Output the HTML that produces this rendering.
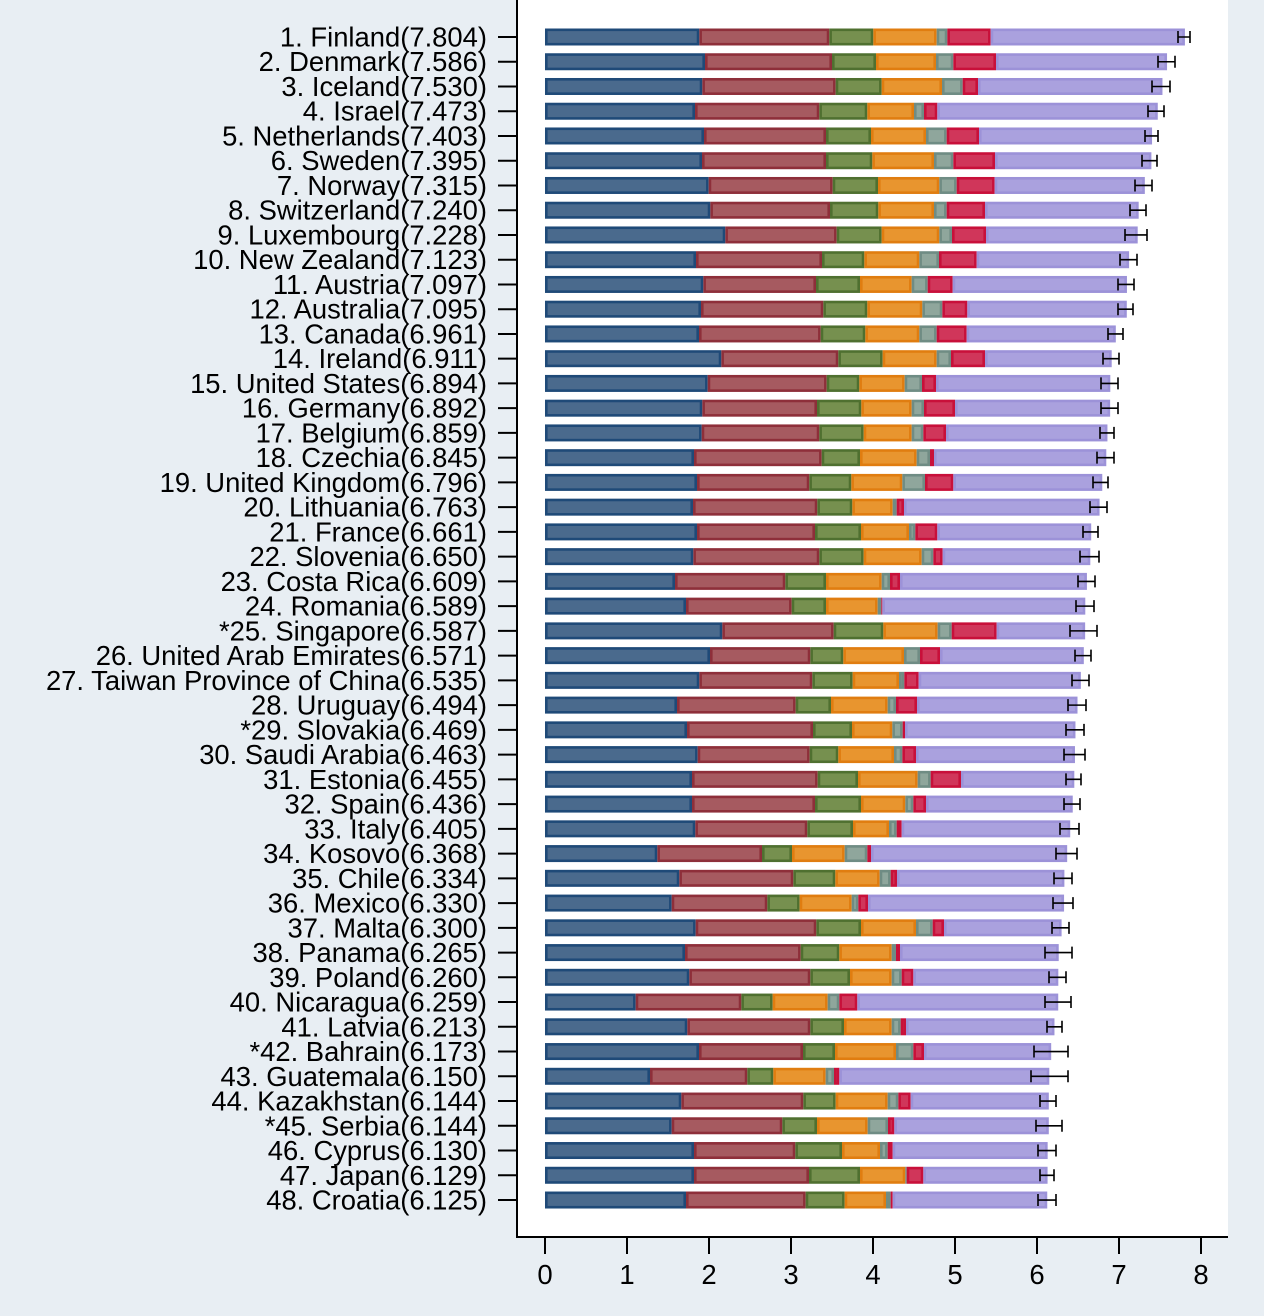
<!DOCTYPE html>
<html><head><meta charset="utf-8">
<style>
html,body{margin:0;padding:0;background:#e8eef3;}
svg{display:block;}
text{font-family:"Liberation Sans",sans-serif;}
</style></head>
<body>
<svg id="c" width="1264" height="1316" viewBox="0 0 1264 1316" xmlns="http://www.w3.org/2000/svg">
<rect x="0" y="0" width="1264" height="1316" fill="#e8eef3"/>
<rect x="517" y="0" width="711" height="1237" fill="#ffffff"/>
<g id="g"></g>
<line x1="517" y1="0" x2="517" y2="1238" stroke="#000" stroke-width="2"/>
<line x1="516" y1="1237" x2="1228" y2="1237" stroke="#000" stroke-width="2"/>
</svg>
<script>
var names=["1. Finland(7.804)","2. Denmark(7.586)","3. Iceland(7.530)","4. Israel(7.473)","5. Netherlands(7.403)","6. Sweden(7.395)","7. Norway(7.315)","8. Switzerland(7.240)","9. Luxembourg(7.228)","10. New Zealand(7.123)","11. Austria(7.097)","12. Australia(7.095)","13. Canada(6.961)","14. Ireland(6.911)","15. United States(6.894)","16. Germany(6.892)","17. Belgium(6.859)","18. Czechia(6.845)","19. United Kingdom(6.796)","20. Lithuania(6.763)","21. France(6.661)","22. Slovenia(6.650)","23. Costa Rica(6.609)","24. Romania(6.589)","*25. Singapore(6.587)","26. United Arab Emirates(6.571)","27. Taiwan Province of China(6.535)","28. Uruguay(6.494)","*29. Slovakia(6.469)","30. Saudi Arabia(6.463)","31. Estonia(6.455)","32. Spain(6.436)","33. Italy(6.405)","34. Kosovo(6.368)","35. Chile(6.334)","36. Mexico(6.330)","37. Malta(6.300)","38. Panama(6.265)","39. Poland(6.260)","40. Nicaragua(6.259)","41. Latvia(6.213)","*42. Bahrain(6.173)","43. Guatemala(6.150)","44. Kazakhstan(6.144)","*45. Serbia(6.144)","46. Cyprus(6.130)","47. Japan(6.129)","48. Croatia(6.125)"];
var B=[
[478,868,1000,1190,1222,1352],[495,876,1008,1188,1240,1368],[487,887,1025,1206,1268,1314],[465,838,982,1122,1152,1192],
[492,858,993,1158,1220,1317],[486,858,997,1182,1240,1365],[506,878,1014,1198,1250,1364],[511,870,1015,1182,1220,1335],
[556,890,1025,1198,1236,1338],[468,846,973,1138,1197,1310],[490,828,960,1115,1163,1238],[483,850,982,1147,1207,1282],
[477,842,976,1138,1190,1280],[544,895,1028,1190,1233,1335],[503,860,958,1094,1146,1188],[487,831,964,1115,1152,1245],
[485,838,971,1115,1150,1218],[462,845,960,1130,1170,1182],[471,808,934,1087,1155,1240],[459,832,937,1058,1070,1092],
[471,825,963,1107,1126,1192],[460,838,971,1145,1180,1208],[405,736,858,1025,1050,1080],[438,755,858,1013,1024,1027],
[547,881,1030,1193,1235,1370],[510,811,910,1092,1140,1200],[478,817,938,1077,1093,1136],[411,767,873,1043,1068,1131],
[441,819,936,1057,1088,1095],[473,809,895,1062,1087,1128],[456,833,954,1133,1172,1263],[456,825,963,1096,1120,1158],
[466,802,939,1047,1070,1085],[352,666,756,914,982,993],[418,760,886,1019,1052,1071],[395,682,779,935,955,984],
[467,829,963,1128,1178,1212],[435,782,898,1055,1068,1080],[448,811,930,1055,1085,1120],[287,604,698,863,898,952],
[442,811,912,1055,1082,1098],[477,789,885,1068,1120,1152],[330,622,700,857,882,898],[424,790,887,1043,1075,1112],
[395,727,831,983,1044,1063],[462,766,906,1020,1043,1058],[462,807,960,1096,1100,1150],[438,797,914,1038,1052,1058]];
var E=[[1178,1190],[1158,1175],[1152,1170],[1148,1164],[1145,1158],[1142,1157],[1135,1152],[1130,1146],[1125,1147],[1120,1137],[1118,1134],[1118,1133],[1108,1123],[1103,1119],[1101,1118],[1101,1118],[1100,1114],[1097,1114],[1093,1108],[1090,1107],[1083,1098],[1080,1099],[1078,1095],[1076,1094],[1070,1097],[1075,1091],[1072,1089],[1068,1086],[1066,1084],[1064,1085],[1066,1081],[1064,1080],[1060,1079],[1056,1077],[1054,1072],[1053,1073],[1052,1069],[1045,1072],[1049,1066],[1045,1071],[1047,1062],[1034,1068],[1031,1068],[1040,1056],[1036,1062],[1038,1056],[1040,1054],[1038,1056]];
var fills=["#4a6a8d","#a65a60","#76904f","#e8952f","#8fa69c","#d0365a","#aaa1de"];
var strokes=["#1f4a78","#8e2f3a","#4f7030","#e07d10","#6f8c84","#c8103a","#9c92d8"];
var s="";
for(var i=0;i<48;i++){
  var y=37+i*24.745;
  var score=parseFloat(names[i].match(/\(([\d.]+)\)/)[1]);
  var xs=[545];
  for(var k=0;k<6;k++)xs.push(540+B[i][k]/3);
  xs.push(545+score*82);
  for(var k=0;k<7;k++){
    var w=xs[k+1]-xs[k]; if(w<0.5)continue;
    var sw=Math.min(2.6,w/2);
    s+='<rect x="'+(xs[k]+sw/2).toFixed(2)+'" y="'+(y-8.5+sw/2).toFixed(2)+'" width="'+Math.max(0.1,w-sw).toFixed(2)+'" height="'+(17-sw).toFixed(2)+'" fill="'+fills[k]+'" stroke="'+strokes[k]+'" stroke-width="'+sw.toFixed(2)+'"/>';
  }
  var e=E[i];
  s+='<path d="M'+e[0]+' '+y+'H'+e[1]+'M'+e[0]+' '+(y-6)+'V'+(y+6)+'M'+e[1]+' '+(y-6)+'V'+(y+6)+'" stroke="#000" stroke-width="1.6" fill="none"/>';
  s+='<line x1="498" y1="'+y+'" x2="517" y2="'+y+'" stroke="#000" stroke-width="2"/>';
  s+='<text x="487" y="'+(y+9.5)+'" font-size="27.4" text-anchor="end" fill="#000">'+names[i]+'</text>';
}
for(var t=0;t<=8;t++){
  var x=545+t*82;
  s+='<line x1="'+x+'" y1="1237" x2="'+x+'" y2="1254" stroke="#000" stroke-width="2"/>';
  s+='<text x="'+x+'" y="1284" font-size="27.5" text-anchor="middle" fill="#000">'+t+'</text>';
}
document.getElementById("g").innerHTML=s;
</script>
</body></html>
